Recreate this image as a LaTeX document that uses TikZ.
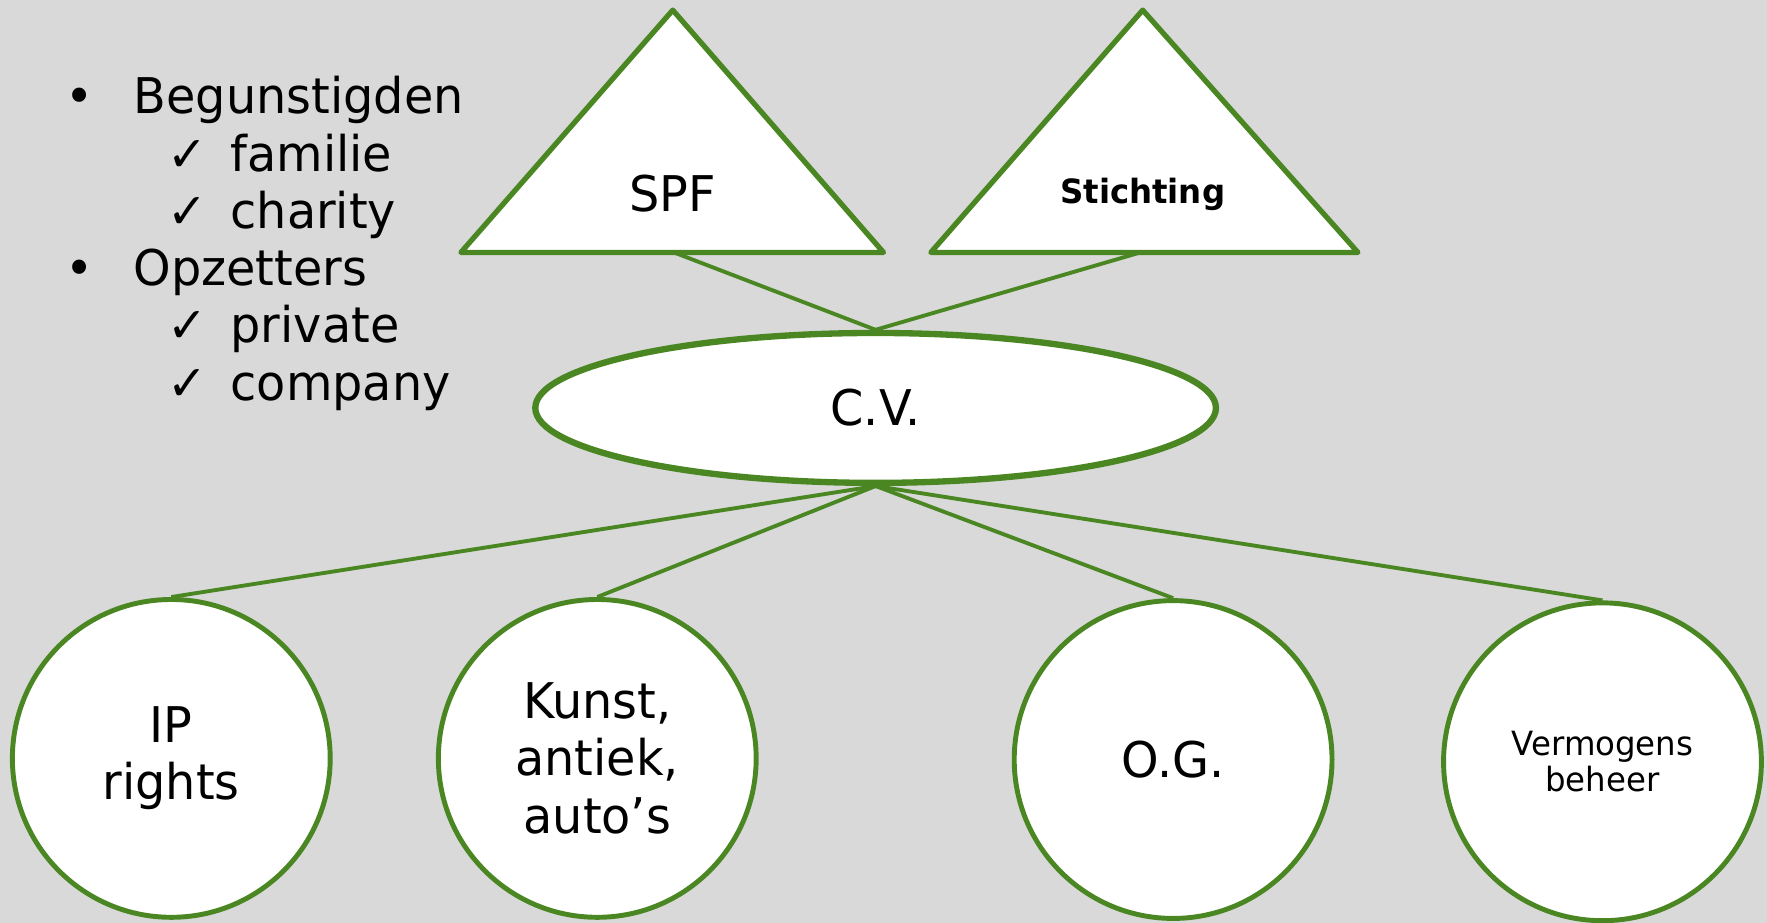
\documentclass[tikz,border=0pt]{standalone}
\usepackage{fontspec}
\setmainfont[FakeStretch=0.97]{DejaVu Sans}
\usetikzlibrary{shapes.geometric}
\definecolor{leaf}{RGB}{74,135,35}
\definecolor{paper}{RGB}{217,217,217}

\begin{document}
\begin{tikzpicture}[x=0.11269mm, y=-0.11269mm,
    big/.style={font=\fontsize{14}{16.3}\selectfont},
    small/.style={font=\fontsize{9.5}{10.4}\selectfont},
    item/.style={big, inner sep=0, anchor=base west},
    box/.style={draw=leaf, fill=white, line width=1.4pt},
    link/.style={draw=leaf, line width=1.1pt}]
    \def\d{31.78mm}
    % Background
    \fill [paper] (0, 0) rectangle (1568, 819);
    \useasboundingbox (0, 0) rectangle (1568, 819);

    % List
    \node [big, inner sep=0, anchor=base] (dot1) at (71, 101) {•};
    \node [item] (ben) at (118, 101) {Begunstigden};
    \node [big, inner sep=0, anchor=base] (chk1) at (166, 152) {✓};
    \node [item] (fam) at (204, 152) {familie};
    \node [big, inner sep=0, anchor=base] (chk2) at (166, 203) {✓};
    \node [item] (cha) at (204, 203) {charity};
    \node [big, inner sep=0, anchor=base] (dot2) at (71, 253) {•};
    \node [item] (opz) at (118, 253) {Opzetters};
    \node [big, inner sep=0, anchor=base] (chk3) at (166, 304) {✓};
    \node [item] (pri) at (204, 304) {private};
    \node [big, inner sep=0, anchor=base] (chk4) at (166, 355) {✓};
    \node [item] (com) at (204, 355) {company};

    % Top
    %% Triangles
    \draw [box, line width=1.5pt, line join=round]
        (597, 9) -- (409, 224) -- (784, 224) -- cycle;
    \draw [box, line width=1.5pt, line join=round]
        (1014, 9) -- (826, 224) -- (1205, 224) -- cycle;
    \coordinate (spf-b) at (598, 224);
    \coordinate (stg-b) at (1012, 224);
    \node [big] (spf) at (597, 172) {SPF};
    \node [small, anchor=base] (stg) at (1014, 181) {\bfseries Stichting};
    %% Ellipse
    \node [ellipse, box, line width=1.8pt, big,
        minimum width=68.06mm, minimum height=14.99mm] (cv) at (777, 362) {C.V.};

    % Bottom
    \node [circle, box, big, align=center, minimum size=\d] (ip) at (152, 673) {IP\\rights};
    \node [circle, box, big, align=center, minimum size=\d] (kun) at (530, 673) {Kunst,\\antiek,\\auto’s};
    \node [circle, box, big, align=center, minimum size=\d] (og) at (1041, 674) {O.G.};
    \node [circle, box, small, align=center, minimum size=\d] (vb) at (1422, 676) {Vermogens\\beheer};

    % Links
    \draw [link] (spf-b) -- (cv.north);
    \draw [link] (stg-b) -- (cv.north);
    \draw [link] (cv.south) -- (ip.north);
    \draw [link] (cv.south) -- (kun.north);
    \draw [link] (cv.south) -- (og.north);
    \draw [link] (cv.south) -- (vb.north);
\end{tikzpicture}
\end{document}
